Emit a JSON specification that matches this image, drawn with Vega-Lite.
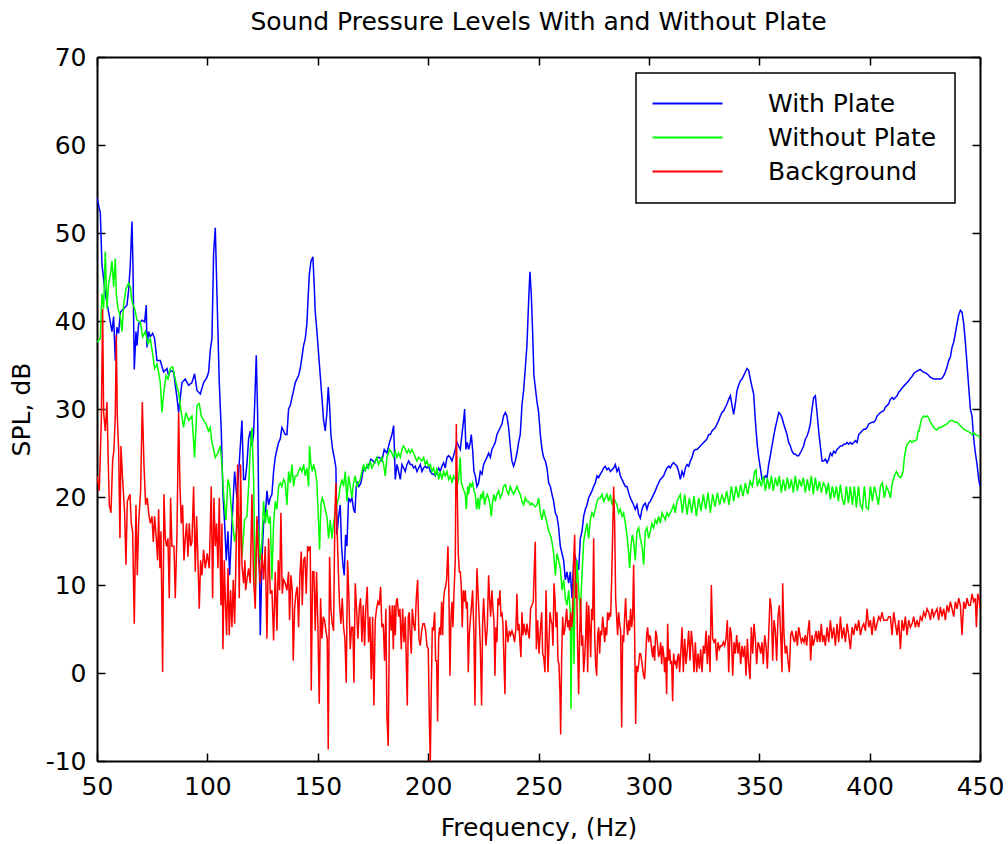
{
"$schema": "https://vega.github.io/schema/vega-lite/v6.json",
"width": 883, "height": 704,
"autosize": {"type": "none"},
"padding": {"left": 97, "top": 57, "right": 28, "bottom": 83},
"background": "white",
"title": {"text": "Sound Pressure Levels With and Without Plate", "font": "DejaVu Sans", "fontSize": 25, "fontWeight": "normal", "color": "black", "anchor": "middle", "offset": 10},
"config": {
 "view": {"stroke": null},
 "axis": {"labelFont": "DejaVu Sans", "labelFontSize": 25, "labelColor": "black", "titleFont": "DejaVu Sans", "titleFontSize": 25, "titleFontWeight": "normal", "titleColor": "black", "grid": false, "domainColor": "black", "domainWidth": 2, "tickColor": "black", "tickWidth": 1.5, "tickSize": -8, "labelFlush": false, "labelOverlap": false},
 "legend": {"strokeWidth": 1.5}
},
"datasets": {
"wp": [{"f":50,"v":54},{"f":51.5,"v":52.3},{"f":52.25,"v":46.4},{"f":53.76,"v":43.1},{"f":55.27,"v":41},{"f":56.78,"v":38.8},{"f":57.53,"v":40.5},{"f":58.29,"v":35.5},{"f":59.04,"v":39.3},{"f":59.8,"v":38.6},{"f":60.55,"v":41},{"f":62.06,"v":41.4},{"f":63.57,"v":41.8},{"f":64.33,"v":43.5},{"f":65.08,"v":46.4},{"f":65.84,"v":51.3},{"f":66.29,"v":46.4},{"f":66.89,"v":34.5},{"f":67.65,"v":38.8},{"f":68.1,"v":37.2},{"f":68.86,"v":39.7},{"f":70.37,"v":40.1},{"f":71.57,"v":39.9},{"f":72.33,"v":41.8},{"f":72.63,"v":37},{"f":73.39,"v":38.8},{"f":74.14,"v":38.2},{"f":75.2,"v":38.6},{"f":76.1,"v":38},{"f":77.16,"v":35.5},{"f":78.67,"v":35.5},{"f":80.18,"v":34.2},{"f":81.69,"v":34.6},{"f":82.44,"v":33.8},{"f":83.2,"v":34.4},{"f":84.71,"v":34.2},{"f":86.22,"v":31.3},{"f":86.97,"v":29.6},{"f":88.48,"v":33},{"f":89.99,"v":33.4},{"f":91.5,"v":32.7},{"f":93.01,"v":33},{"f":94.22,"v":34},{"f":95.28,"v":32.1},{"f":96.79,"v":31.7},{"f":98.3,"v":33},{"f":99.8,"v":33.6},{"f":100.56,"v":34.2},{"f":101.32,"v":36.7},{"f":102.07,"v":38},{"f":102.83,"v":47.7},{"f":103.58,"v":50.6},{"f":104.34,"v":43.1},{"f":105.39,"v":33},{"f":106.3,"v":27.5},{"f":107.05,"v":20.3},{"f":107.81,"v":17},{"f":108.56,"v":12.8},{"f":109.32,"v":16.1},{"f":110.07,"v":11.1},{"f":111.13,"v":17},{"f":112.34,"v":22.9},{"f":113.39,"v":19.9},{"f":114.45,"v":23.9},{"f":115.66,"v":28.7},{"f":116.41,"v":22},{"f":117.16,"v":22},{"f":117.92,"v":23.7},{"f":118.67,"v":26.6},{"f":119.43,"v":27.5},{"f":120.18,"v":25.8},{"f":120.94,"v":27.1},{"f":121.54,"v":31.3},{"f":122.15,"v":36.1},{"f":122.75,"v":29.6},{"f":123.35,"v":17},{"f":123.96,"v":4.3},{"f":124.71,"v":12.8},{"f":125.47,"v":17},{"f":126.22,"v":17.8},{"f":126.98,"v":20.7},{"f":127.73,"v":19.1},{"f":128.49,"v":19.9},{"f":129.24,"v":20.3},{"f":130,"v":22.9},{"f":130.75,"v":24.5},{"f":131.51,"v":25.4},{"f":132.26,"v":26.2},{"f":133.02,"v":26.6},{"f":133.77,"v":27.9},{"f":134.53,"v":27.5},{"f":135.28,"v":27.1},{"f":136.04,"v":27.1},{"f":136.79,"v":30},{"f":137.55,"v":30.4},{"f":138.3,"v":31.3},{"f":139.06,"v":32.1},{"f":139.81,"v":33},{"f":140.56,"v":33.4},{"f":141.32,"v":33.8},{"f":142.07,"v":34.6},{"f":142.83,"v":35.9},{"f":143.58,"v":37.2},{"f":144.34,"v":38},{"f":145.09,"v":39.7},{"f":145.55,"v":42.2},{"f":146.15,"v":45.2},{"f":146.91,"v":46.8},{"f":147.81,"v":47.3},{"f":148.42,"v":43.9},{"f":148.87,"v":41},{"f":149.62,"v":38.8},{"f":150.38,"v":36.3},{"f":151.13,"v":33.8},{"f":151.89,"v":31.3},{"f":152.64,"v":28.7},{"f":153.4,"v":27.5},{"f":154.15,"v":29.6},{"f":154.76,"v":32.5},{"f":155.36,"v":30.4},{"f":155.96,"v":27.1},{"f":156.72,"v":25.4},{"f":157.47,"v":24.5},{"f":158.23,"v":23.3},{"f":158.68,"v":15.7},{"f":159.44,"v":17.8},{"f":160.19,"v":19.1},{"f":160.79,"v":14.4},{"f":161.4,"v":12.3},{"f":162,"v":11.1},{"f":162.61,"v":15.7},{"f":163.21,"v":14.4},{"f":163.96,"v":19.9},{"f":164.72,"v":19.5},{"f":165.47,"v":19.9},{"f":166.23,"v":18.6},{"f":166.83,"v":18.2},{"f":167.44,"v":21.2},{"f":168.04,"v":21.6},{"f":168.65,"v":21.2},{"f":169.55,"v":21.6},{"f":170.46,"v":22.9},{"f":171.36,"v":23.3},{"f":172.27,"v":23.3},{"f":173.17,"v":23.7},{"f":174.08,"v":24.3},{"f":174.99,"v":24.1},{"f":175.89,"v":23.9},{"f":176.8,"v":24.5},{"f":178,"v":24.5},{"f":179.06,"v":24.1},{"f":180.12,"v":25.4},{"f":181.33,"v":25},{"f":182.53,"v":26.2},{"f":183.62,"v":27.1},{"f":184.37,"v":28.1},{"f":185.13,"v":22},{"f":185.88,"v":23.7},{"f":186.64,"v":22.9},{"f":187.39,"v":22},{"f":188.15,"v":23.7},{"f":188.9,"v":23.3},{"f":189.66,"v":22.9},{"f":190.41,"v":23.7},{"f":191.17,"v":24.1},{"f":191.92,"v":23.7},{"f":192.68,"v":23.7},{"f":193.43,"v":23.3},{"f":194.19,"v":23.5},{"f":194.94,"v":22.9},{"f":195.7,"v":23.3},{"f":196.45,"v":23.7},{"f":197.21,"v":22.9},{"f":197.96,"v":23.3},{"f":198.72,"v":23.5},{"f":199.47,"v":23.3},{"f":200.23,"v":23.5},{"f":200.98,"v":22.9},{"f":201.74,"v":22.6},{"f":202.49,"v":22.6},{"f":203.25,"v":22.4},{"f":204,"v":22.9},{"f":204.76,"v":23.3},{"f":205.51,"v":22.9},{"f":206.26,"v":23.5},{"f":207.02,"v":23.9},{"f":207.77,"v":23.3},{"f":208.53,"v":24.5},{"f":209.28,"v":24.7},{"f":210.04,"v":24.5},{"f":210.79,"v":24.1},{"f":211.55,"v":24.7},{"f":212.3,"v":25.4},{"f":213.06,"v":26.2},{"f":213.81,"v":25.8},{"f":214.57,"v":25.4},{"f":215.32,"v":27.1},{"f":216.08,"v":28.7},{"f":216.53,"v":30},{"f":217.13,"v":25.4},{"f":217.74,"v":26.2},{"f":218.34,"v":25.4},{"f":219.1,"v":26.2},{"f":219.55,"v":27.1},{"f":220.15,"v":25.4},{"f":220.76,"v":22.9},{"f":221.36,"v":22.4},{"f":222.12,"v":21.2},{"f":222.87,"v":21.6},{"f":223.63,"v":22.9},{"f":224.38,"v":22.6},{"f":225.14,"v":23.7},{"f":225.89,"v":24.1},{"f":226.65,"v":24.5},{"f":227.4,"v":25},{"f":228.16,"v":24.5},{"f":228.91,"v":25.4},{"f":229.67,"v":25.8},{"f":230.42,"v":26.2},{"f":231.18,"v":27.1},{"f":231.93,"v":27.5},{"f":232.69,"v":27.9},{"f":233.44,"v":28.3},{"f":234.19,"v":29.2},{"f":234.95,"v":29.6},{"f":235.7,"v":29.2},{"f":236.46,"v":27.9},{"f":237.21,"v":25.8},{"f":237.97,"v":24.1},{"f":238.72,"v":23.5},{"f":239.48,"v":24.1},{"f":240.23,"v":25},{"f":240.99,"v":26.2},{"f":241.74,"v":27.1},{"f":242.5,"v":30.4},{"f":243.25,"v":32.1},{"f":244.01,"v":34.6},{"f":244.76,"v":37.2},{"f":245.52,"v":42.2},{"f":246.12,"v":45.6},{"f":246.73,"v":43.1},{"f":247.33,"v":38.8},{"f":247.93,"v":33.8},{"f":248.54,"v":32.5},{"f":249.32,"v":30.8},{"f":250.07,"v":29.6},{"f":250.83,"v":27.1},{"f":251.58,"v":25.4},{"f":252.34,"v":24.5},{"f":253.09,"v":24.1},{"f":253.85,"v":23.3},{"f":254.6,"v":21.6},{"f":255.36,"v":21.2},{"f":256.11,"v":20.3},{"f":256.87,"v":19.5},{"f":257.62,"v":18.2},{"f":258.38,"v":17.8},{"f":259.13,"v":16.5},{"f":259.89,"v":14.4},{"f":260.64,"v":13.6},{"f":261.4,"v":12.8},{"f":262.15,"v":10.6},{"f":262.91,"v":11.5},{"f":263.66,"v":10.2},{"f":264.42,"v":11.5},{"f":265.17,"v":8.5},{"f":265.93,"v":12.8},{"f":266.68,"v":13.2},{"f":267.44,"v":12.3},{"f":268.19,"v":11.7},{"f":268.95,"v":15.3},{"f":269.7,"v":16.1},{"f":270.46,"v":17.8},{"f":271.21,"v":18.6},{"f":271.96,"v":19.1},{"f":272.72,"v":19.9},{"f":273.47,"v":20.3},{"f":274.23,"v":20.7},{"f":274.98,"v":21.2},{"f":275.74,"v":21.6},{"f":276.49,"v":22.4},{"f":277.25,"v":22.2},{"f":278,"v":22.6},{"f":278.76,"v":22.9},{"f":279.51,"v":23.3},{"f":280.27,"v":23.5},{"f":281.02,"v":23.1},{"f":281.78,"v":23.3},{"f":282.53,"v":22.9},{"f":283.29,"v":23.1},{"f":284.04,"v":23.3},{"f":284.8,"v":23.7},{"f":285.55,"v":22.9},{"f":286.31,"v":23.3},{"f":287.06,"v":22.4},{"f":287.82,"v":22},{"f":288.57,"v":21.6},{"f":289.33,"v":21.2},{"f":290.08,"v":21.2},{"f":290.84,"v":20.5},{"f":291.59,"v":19.9},{"f":292.35,"v":19.5},{"f":293.1,"v":19.1},{"f":293.86,"v":18.6},{"f":294.61,"v":19.1},{"f":295.37,"v":18},{"f":296.12,"v":17.6},{"f":296.88,"v":18.6},{"f":297.63,"v":19.1},{"f":298.39,"v":19.3},{"f":299.14,"v":18.6},{"f":299.9,"v":19.3},{"f":300.65,"v":19.5},{"f":301.4,"v":19.9},{"f":302.16,"v":20.3},{"f":302.91,"v":20.7},{"f":303.67,"v":21.2},{"f":304.42,"v":21.6},{"f":305.18,"v":22},{"f":305.93,"v":22.2},{"f":306.69,"v":22.4},{"f":307.44,"v":22.9},{"f":308.2,"v":23.3},{"f":308.95,"v":23.5},{"f":309.71,"v":23.3},{"f":310.46,"v":23.7},{"f":311.22,"v":23.9},{"f":311.97,"v":23.7},{"f":312.73,"v":23.5},{"f":313.48,"v":22.9},{"f":314.24,"v":22},{"f":315.02,"v":22.9},{"f":315.77,"v":22.4},{"f":316.53,"v":23.3},{"f":317.28,"v":23.7},{"f":318.04,"v":23.5},{"f":318.79,"v":24.1},{"f":319.55,"v":24.5},{"f":320.3,"v":25.2},{"f":321.06,"v":25.4},{"f":321.81,"v":25.4},{"f":322.57,"v":25.6},{"f":323.32,"v":25.8},{"f":324.08,"v":26},{"f":324.83,"v":26.2},{"f":325.59,"v":26.4},{"f":326.34,"v":26.6},{"f":327.1,"v":27.1},{"f":327.85,"v":27.1},{"f":328.61,"v":27.5},{"f":329.36,"v":27.7},{"f":330.12,"v":27.9},{"f":330.87,"v":28.3},{"f":331.63,"v":28.7},{"f":332.38,"v":29.2},{"f":333.14,"v":29.6},{"f":333.89,"v":29.8},{"f":334.65,"v":30.2},{"f":335.4,"v":30.6},{"f":336.16,"v":31.1},{"f":336.91,"v":31.5},{"f":337.66,"v":30.4},{"f":338.42,"v":29.4},{"f":339.17,"v":30.6},{"f":339.93,"v":32.1},{"f":340.68,"v":32.7},{"f":341.44,"v":33.2},{"f":342.19,"v":33.4},{"f":342.95,"v":33.8},{"f":343.7,"v":34.2},{"f":344.46,"v":34.6},{"f":345.21,"v":34.4},{"f":345.97,"v":33.4},{"f":346.72,"v":32.5},{"f":347.48,"v":31.7},{"f":348.23,"v":28.7},{"f":348.99,"v":26.2},{"f":349.74,"v":24.5},{"f":350.5,"v":23.3},{"f":351.25,"v":22},{"f":352.01,"v":22},{"f":352.76,"v":22.4},{"f":353.52,"v":22.2},{"f":354.27,"v":23.7},{"f":355.03,"v":24.7},{"f":355.78,"v":25.8},{"f":356.54,"v":26.9},{"f":357.29,"v":27.9},{"f":358.05,"v":28.7},{"f":358.8,"v":29.6},{"f":359.56,"v":29.4},{"f":360.31,"v":29},{"f":361.07,"v":28.3},{"f":361.82,"v":27.7},{"f":362.57,"v":27.1},{"f":363.33,"v":26.2},{"f":364.08,"v":25.8},{"f":364.84,"v":25.2},{"f":365.59,"v":24.9},{"f":366.35,"v":24.9},{"f":367.1,"v":24.7},{"f":367.86,"v":24.7},{"f":368.61,"v":25},{"f":369.37,"v":25.4},{"f":370.12,"v":25.8},{"f":370.88,"v":26.6},{"f":371.63,"v":26.9},{"f":372.39,"v":27.5},{"f":373.14,"v":28.3},{"f":373.9,"v":30},{"f":374.65,"v":31.3},{"f":375.41,"v":31.5},{"f":376.16,"v":29.6},{"f":376.92,"v":27.5},{"f":377.67,"v":25.8},{"f":378.43,"v":24.1},{"f":379.18,"v":24.1},{"f":379.94,"v":24.3},{"f":380.72,"v":23.9},{"f":381.47,"v":24.3},{"f":382.23,"v":25},{"f":382.98,"v":24.7},{"f":383.74,"v":25.2},{"f":384.49,"v":25},{"f":385.25,"v":25.4},{"f":386,"v":25.6},{"f":386.76,"v":25.8},{"f":387.51,"v":25.8},{"f":388.27,"v":26},{"f":389.02,"v":26},{"f":389.78,"v":26.2},{"f":390.53,"v":26},{"f":391.29,"v":26.2},{"f":392.04,"v":26},{"f":392.8,"v":26.2},{"f":393.55,"v":26.4},{"f":394.31,"v":26.2},{"f":395.06,"v":27.1},{"f":395.82,"v":27.3},{"f":396.57,"v":27.5},{"f":397.33,"v":27.7},{"f":398.08,"v":27.7},{"f":398.84,"v":27.9},{"f":399.59,"v":28.3},{"f":400.35,"v":28.4},{"f":401.1,"v":28.5},{"f":401.86,"v":28.5},{"f":402.61,"v":28.7},{"f":403.36,"v":29.2},{"f":404.12,"v":29.4},{"f":404.87,"v":29.6},{"f":405.63,"v":29.7},{"f":406.38,"v":29.8},{"f":407.14,"v":30.2},{"f":407.89,"v":30.4},{"f":408.65,"v":30.6},{"f":409.4,"v":31.1},{"f":410.16,"v":31.3},{"f":410.91,"v":31.1},{"f":411.67,"v":31.3},{"f":412.42,"v":31.5},{"f":413.18,"v":31.9},{"f":413.93,"v":32.1},{"f":414.69,"v":32.4},{"f":415.44,"v":32.6},{"f":416.2,"v":32.8},{"f":416.95,"v":33},{"f":417.71,"v":33.2},{"f":418.46,"v":33.5},{"f":419.22,"v":33.7},{"f":419.97,"v":34},{"f":420.73,"v":34.2},{"f":421.48,"v":34.3},{"f":422.24,"v":34.4},{"f":422.99,"v":34.5},{"f":423.75,"v":34.3},{"f":424.5,"v":34.2},{"f":425.26,"v":34.1},{"f":426.01,"v":34},{"f":426.77,"v":33.8},{"f":427.52,"v":33.6},{"f":428.27,"v":33.5},{"f":429.03,"v":33.4},{"f":429.78,"v":33.4},{"f":430.54,"v":33.4},{"f":431.29,"v":33.4},{"f":432.05,"v":33.4},{"f":432.8,"v":33.5},{"f":433.56,"v":33.8},{"f":434.31,"v":34.2},{"f":435.07,"v":34.8},{"f":435.82,"v":35.5},{"f":436.58,"v":35.9},{"f":437.33,"v":37},{"f":438.09,"v":37.6},{"f":438.84,"v":38.6},{"f":439.6,"v":39.7},{"f":440.35,"v":40.7},{"f":441.11,"v":41.2},{"f":441.86,"v":41},{"f":442.62,"v":39.7},{"f":443.37,"v":37.6},{"f":444.13,"v":35.1},{"f":444.88,"v":32.5},{"f":445.64,"v":30},{"f":446.39,"v":29.2},{"f":447.15,"v":26.6},{"f":447.9,"v":25},{"f":448.66,"v":23.7},{"f":449.41,"v":22},{"f":450,"v":21.2}],
"wo": [{"f":50,"v":37.6},{"f":51.5,"v":38},{"f":52.25,"v":43.1},{"f":53,"v":41.4},{"f":53.76,"v":47.9},{"f":54.51,"v":41.4},{"f":55.27,"v":44.3},{"f":56.02,"v":45.2},{"f":56.78,"v":46.8},{"f":57.53,"v":43.9},{"f":58.29,"v":47.1},{"f":58.74,"v":43.1},{"f":59.5,"v":41.4},{"f":60.55,"v":40.5},{"f":61.31,"v":38.8},{"f":62.06,"v":41.8},{"f":63.12,"v":43.7},{"f":64.33,"v":44.3},{"f":65.08,"v":43.9},{"f":65.84,"v":42.2},{"f":67.04,"v":41.4},{"f":68.1,"v":40.1},{"f":69.61,"v":39.9},{"f":70.67,"v":38.2},{"f":71.88,"v":38.8},{"f":73.08,"v":37.4},{"f":74.14,"v":38},{"f":75.2,"v":36.3},{"f":76.1,"v":34.6},{"f":77.16,"v":35.1},{"f":77.91,"v":34.2},{"f":78.67,"v":33},{"f":79.42,"v":29.6},{"f":80.18,"v":31.7},{"f":81.24,"v":33.8},{"f":82.14,"v":33.4},{"f":83.2,"v":34.6},{"f":84.25,"v":34.8},{"f":85.46,"v":33.4},{"f":86.22,"v":32.5},{"f":86.97,"v":31.9},{"f":88.18,"v":29.6},{"f":89.24,"v":27.9},{"f":90.29,"v":29.6},{"f":91.5,"v":28.7},{"f":93.01,"v":29.2},{"f":94.22,"v":24.5},{"f":95.28,"v":30.4},{"f":96.33,"v":30.6},{"f":97.24,"v":29.2},{"f":98.3,"v":28.7},{"f":99.35,"v":28.3},{"f":100.56,"v":27.5},{"f":101.32,"v":27.9},{"f":102.07,"v":26.2},{"f":102.83,"v":25.4},{"f":103.58,"v":24.5},{"f":104.79,"v":25},{"f":105.84,"v":25.8},{"f":106.6,"v":23.7},{"f":107.35,"v":20.3},{"f":108.41,"v":17.4},{"f":109.32,"v":22},{"f":110.07,"v":21.2},{"f":111.13,"v":17.8},{"f":112.34,"v":14.9},{"f":113.39,"v":16.5},{"f":114.9,"v":17.8},{"f":115.66,"v":13.2},{"f":116.86,"v":17.4},{"f":117.92,"v":17.8},{"f":118.67,"v":21.2},{"f":119.43,"v":25.4},{"f":120.18,"v":27.9},{"f":120.94,"v":22},{"f":121.69,"v":8.5},{"f":122.45,"v":17.4},{"f":123.2,"v":16.1},{"f":123.96,"v":12.8},{"f":124.71,"v":14.9},{"f":125.47,"v":19.5},{"f":126.22,"v":17},{"f":126.98,"v":18.6},{"f":127.73,"v":17},{"f":128.49,"v":17.8},{"f":129.24,"v":10.6},{"f":130,"v":17},{"f":130.75,"v":19.5},{"f":131.51,"v":18.6},{"f":132.26,"v":21.2},{"f":133.02,"v":21.6},{"f":133.77,"v":21.2},{"f":134.53,"v":22},{"f":135.28,"v":21.6},{"f":136.04,"v":19.1},{"f":136.79,"v":22.9},{"f":137.55,"v":21.6},{"f":138.3,"v":23.7},{"f":139.06,"v":21.2},{"f":139.81,"v":22.4},{"f":140.56,"v":22.4},{"f":141.32,"v":22.9},{"f":142.07,"v":23.3},{"f":142.83,"v":22.9},{"f":143.58,"v":23.7},{"f":144.34,"v":22.4},{"f":145.09,"v":23.3},{"f":145.85,"v":21.2},{"f":146.3,"v":25.8},{"f":146.91,"v":23.7},{"f":147.51,"v":22.9},{"f":148.11,"v":23.7},{"f":148.87,"v":22.9},{"f":149.62,"v":21.6},{"f":150.38,"v":17},{"f":150.83,"v":14},{"f":151.43,"v":19.1},{"f":152.04,"v":19.9},{"f":152.64,"v":19.5},{"f":153.4,"v":18.6},{"f":154.15,"v":17.8},{"f":154.91,"v":15.3},{"f":155.66,"v":17.4},{"f":156.42,"v":15.3},{"f":157.17,"v":17},{"f":157.93,"v":18.2},{"f":158.68,"v":19.1},{"f":159.44,"v":19.9},{"f":160.19,"v":21.2},{"f":160.95,"v":22},{"f":161.7,"v":21.2},{"f":162.46,"v":22.9},{"f":163.21,"v":19.5},{"f":163.96,"v":22.4},{"f":164.72,"v":21.2},{"f":165.47,"v":19.9},{"f":166.23,"v":21.6},{"f":166.98,"v":22.4},{"f":167.74,"v":21.2},{"f":168.49,"v":21.6},{"f":169.25,"v":22},{"f":170,"v":22.9},{"f":170.76,"v":23.7},{"f":171.51,"v":22.9},{"f":172.27,"v":23.7},{"f":173.02,"v":23.3},{"f":173.78,"v":24.1},{"f":174.53,"v":23.3},{"f":175.29,"v":23.7},{"f":176.04,"v":24.1},{"f":176.8,"v":24.5},{"f":177.55,"v":23.7},{"f":178.31,"v":24.1},{"f":179.06,"v":24.5},{"f":179.82,"v":23.7},{"f":180.57,"v":22.4},{"f":181.33,"v":24.5},{"f":182.53,"v":25.4},{"f":183.62,"v":25},{"f":184.37,"v":24.5},{"f":185.13,"v":25.2},{"f":185.88,"v":24.5},{"f":186.64,"v":25},{"f":187.39,"v":24.5},{"f":188.15,"v":25.4},{"f":188.9,"v":25.8},{"f":189.66,"v":25.4},{"f":190.41,"v":25},{"f":191.17,"v":25.4},{"f":191.92,"v":25},{"f":192.68,"v":25.4},{"f":193.43,"v":25},{"f":194.19,"v":24.5},{"f":194.94,"v":24.1},{"f":195.7,"v":24.5},{"f":196.45,"v":24.3},{"f":197.21,"v":24.1},{"f":197.96,"v":24.5},{"f":198.72,"v":23.7},{"f":199.47,"v":24.1},{"f":200.23,"v":23.5},{"f":200.98,"v":23.7},{"f":201.74,"v":22.9},{"f":202.49,"v":23.3},{"f":203.25,"v":22.4},{"f":204,"v":23.3},{"f":204.76,"v":22},{"f":205.51,"v":22.9},{"f":206.26,"v":22},{"f":207.02,"v":22.9},{"f":207.77,"v":22.4},{"f":208.53,"v":22.9},{"f":209.28,"v":22},{"f":210.04,"v":22.4},{"f":210.79,"v":21.6},{"f":211.55,"v":22.4},{"f":212.3,"v":22},{"f":213.06,"v":21.2},{"f":213.81,"v":22},{"f":214.57,"v":24.5},{"f":215.02,"v":21.6},{"f":215.62,"v":21.2},{"f":216.23,"v":20.7},{"f":216.83,"v":20.3},{"f":217.29,"v":18.6},{"f":217.89,"v":21.2},{"f":218.34,"v":20.3},{"f":218.95,"v":21.6},{"f":219.55,"v":21.2},{"f":220.15,"v":21.6},{"f":220.76,"v":20.7},{"f":221.36,"v":20.3},{"f":221.97,"v":18.6},{"f":222.57,"v":19.9},{"f":223.17,"v":18.6},{"f":223.78,"v":20.3},{"f":224.38,"v":19.9},{"f":224.99,"v":20.7},{"f":225.59,"v":19.1},{"f":226.19,"v":19.9},{"f":226.8,"v":20.3},{"f":227.4,"v":19.9},{"f":228,"v":19.1},{"f":228.61,"v":17.8},{"f":229.21,"v":19.5},{"f":229.82,"v":20.3},{"f":230.42,"v":19.5},{"f":231.18,"v":20.3},{"f":231.93,"v":20.7},{"f":232.69,"v":19.9},{"f":233.44,"v":20.3},{"f":234.19,"v":21.2},{"f":234.95,"v":21.4},{"f":235.7,"v":20.7},{"f":236.46,"v":20.3},{"f":237.21,"v":21.2},{"f":237.97,"v":20.7},{"f":238.72,"v":20.3},{"f":239.48,"v":20.7},{"f":240.23,"v":21.2},{"f":240.99,"v":20.7},{"f":241.74,"v":20.3},{"f":242.5,"v":19.5},{"f":243.25,"v":19.1},{"f":244.01,"v":19.9},{"f":244.76,"v":19.5},{"f":245.52,"v":19.5},{"f":246.27,"v":19.1},{"f":247.03,"v":19.3},{"f":247.78,"v":19.1},{"f":248.54,"v":18.9},{"f":249.32,"v":19.1},{"f":250.07,"v":19.9},{"f":250.83,"v":18.2},{"f":251.58,"v":17.4},{"f":252.34,"v":18.6},{"f":253.09,"v":17.8},{"f":253.85,"v":17},{"f":254.6,"v":16.1},{"f":255.36,"v":15.7},{"f":256.11,"v":14.9},{"f":256.87,"v":13.6},{"f":257.62,"v":11.1},{"f":258.38,"v":13.6},{"f":259.13,"v":12.8},{"f":259.89,"v":11.9},{"f":260.64,"v":9.4},{"f":261.4,"v":10.6},{"f":262.15,"v":8.5},{"f":262.91,"v":7.7},{"f":263.66,"v":9.4},{"f":264.42,"v":6.9},{"f":264.72,"v":-4.1},{"f":265.17,"v":6.4},{"f":265.62,"v":8.5},{"f":266.08,"v":1},{"f":266.53,"v":10.6},{"f":266.98,"v":8.5},{"f":267.44,"v":12.8},{"f":268.19,"v":9.4},{"f":268.95,"v":6.9},{"f":269.7,"v":11.1},{"f":270.46,"v":14.9},{"f":271.21,"v":16.1},{"f":271.96,"v":17},{"f":272.72,"v":15.3},{"f":273.47,"v":17.4},{"f":274.23,"v":18.2},{"f":274.98,"v":17.8},{"f":275.74,"v":18.6},{"f":276.49,"v":19.5},{"f":277.25,"v":19.9},{"f":278,"v":19.9},{"f":278.76,"v":20.3},{"f":279.51,"v":19.5},{"f":280.27,"v":19.9},{"f":281.02,"v":20.3},{"f":281.78,"v":19.5},{"f":282.53,"v":20.3},{"f":283.29,"v":19.1},{"f":284.04,"v":19.9},{"f":284.8,"v":19.5},{"f":285.55,"v":19.1},{"f":286.31,"v":18.2},{"f":287.06,"v":18.6},{"f":287.82,"v":17.8},{"f":288.57,"v":18.2},{"f":289.33,"v":17},{"f":290.08,"v":15.7},{"f":290.84,"v":13.6},{"f":291.29,"v":11.9},{"f":291.89,"v":14.4},{"f":292.5,"v":15.7},{"f":293.1,"v":14.9},{"f":293.86,"v":12.8},{"f":294.61,"v":16.1},{"f":295.37,"v":16.5},{"f":296.12,"v":15.3},{"f":296.88,"v":14.4},{"f":297.63,"v":12.3},{"f":298.39,"v":16.1},{"f":299.14,"v":16.5},{"f":299.9,"v":15.3},{"f":300.65,"v":16.1},{"f":301.4,"v":17},{"f":302.16,"v":16.5},{"f":302.91,"v":17.4},{"f":303.67,"v":17},{"f":304.42,"v":17.8},{"f":305.18,"v":17},{"f":305.93,"v":18.2},{"f":306.69,"v":17.8},{"f":307.44,"v":17.4},{"f":308.2,"v":18.2},{"f":308.95,"v":17.8},{"f":309.71,"v":18.2},{"f":310.46,"v":18.6},{"f":311.22,"v":19.1},{"f":311.97,"v":18.2},{"f":312.73,"v":19.5},{"f":313.48,"v":19.9},{"f":314.24,"v":20.3},{"f":315.17,"v":18.2},{"f":316.23,"v":20.3},{"f":317.28,"v":18},{"f":318.34,"v":19.9},{"f":319.4,"v":18.2},{"f":320.45,"v":20.1},{"f":321.51,"v":17.8},{"f":322.57,"v":19.9},{"f":323.62,"v":18.4},{"f":324.68,"v":20.3},{"f":325.74,"v":18.6},{"f":326.8,"v":20.5},{"f":327.85,"v":18.2},{"f":328.91,"v":20.3},{"f":329.97,"v":18.9},{"f":331.02,"v":20.5},{"f":332.08,"v":19.1},{"f":333.14,"v":20.3},{"f":334.19,"v":19.3},{"f":335.25,"v":20.7},{"f":336.31,"v":19.1},{"f":337.36,"v":21.2},{"f":338.42,"v":19.5},{"f":339.48,"v":21.2},{"f":340.53,"v":19.9},{"f":341.59,"v":21.4},{"f":342.65,"v":20.1},{"f":343.7,"v":21.6},{"f":344.76,"v":20.3},{"f":345.82,"v":21.8},{"f":346.87,"v":21.2},{"f":347.93,"v":22.9},{"f":348.53,"v":23.1},{"f":349.14,"v":21.2},{"f":350.04,"v":22},{"f":350.95,"v":21.2},{"f":351.86,"v":22.4},{"f":352.76,"v":20.7},{"f":353.67,"v":22.2},{"f":354.57,"v":20.9},{"f":355.48,"v":22.4},{"f":356.39,"v":20.7},{"f":357.29,"v":22.2},{"f":358.2,"v":21.2},{"f":359.1,"v":22.4},{"f":360.01,"v":20.5},{"f":360.91,"v":22},{"f":361.82,"v":20.7},{"f":362.73,"v":22.2},{"f":363.63,"v":20.9},{"f":364.54,"v":22},{"f":365.44,"v":20.5},{"f":366.35,"v":22.4},{"f":367.26,"v":20.7},{"f":368.16,"v":22},{"f":369.07,"v":21.2},{"f":369.97,"v":22.2},{"f":370.88,"v":20.5},{"f":371.78,"v":22},{"f":372.69,"v":20.7},{"f":373.6,"v":22.4},{"f":374.5,"v":20.3},{"f":375.41,"v":22.2},{"f":376.31,"v":20.7},{"f":377.22,"v":21.8},{"f":378.12,"v":20.5},{"f":379.03,"v":21.6},{"f":379.94,"v":21.2},{"f":380.42,"v":20.3},{"f":381.32,"v":21.6},{"f":382.23,"v":19.7},{"f":383.13,"v":21.2},{"f":384.04,"v":19.9},{"f":384.95,"v":21.2},{"f":385.85,"v":19.5},{"f":386.76,"v":21.4},{"f":387.66,"v":19.7},{"f":388.57,"v":19.1},{"f":389.48,"v":21.2},{"f":390.38,"v":19.3},{"f":391.29,"v":21.2},{"f":392.19,"v":19.1},{"f":393.1,"v":21.2},{"f":394,"v":18.8},{"f":394.91,"v":21.2},{"f":395.82,"v":19.1},{"f":396.72,"v":18.6},{"f":397.63,"v":21.2},{"f":398.53,"v":18.8},{"f":399.44,"v":18.6},{"f":400.35,"v":21.2},{"f":401.25,"v":19.5},{"f":402.16,"v":21.2},{"f":403.06,"v":20.3},{"f":403.97,"v":19.1},{"f":404.87,"v":21.2},{"f":405.78,"v":21.6},{"f":406.69,"v":19.9},{"f":407.59,"v":21.2},{"f":408.5,"v":20.7},{"f":409.4,"v":19.9},{"f":410.31,"v":21.6},{"f":411.22,"v":22.4},{"f":412.12,"v":22.9},{"f":413.03,"v":22.4},{"f":413.93,"v":22.2},{"f":414.54,"v":22.4},{"f":415.14,"v":22.9},{"f":415.74,"v":24.5},{"f":416.35,"v":25.4},{"f":416.95,"v":26},{"f":417.71,"v":26.2},{"f":418.46,"v":26.4},{"f":419.22,"v":26.2},{"f":419.97,"v":26.4},{"f":420.73,"v":26.4},{"f":421.48,"v":26.6},{"f":421.93,"v":27.5},{"f":422.39,"v":27.5},{"f":422.99,"v":28.3},{"f":423.75,"v":29},{"f":424.5,"v":29.2},{"f":425.26,"v":29.1},{"f":426.01,"v":29.2},{"f":426.77,"v":29},{"f":427.52,"v":28.5},{"f":428.27,"v":28.2},{"f":429.03,"v":27.9},{"f":429.78,"v":27.7},{"f":430.54,"v":27.6},{"f":431.29,"v":27.9},{"f":432.05,"v":27.9},{"f":432.8,"v":28},{"f":433.56,"v":28.1},{"f":434.31,"v":28.2},{"f":435.07,"v":28.3},{"f":435.82,"v":28.5},{"f":436.58,"v":28.7},{"f":437.33,"v":28.7},{"f":438.09,"v":28.6},{"f":438.84,"v":28.5},{"f":439.6,"v":28.5},{"f":440.35,"v":28.3},{"f":441.11,"v":28.1},{"f":441.86,"v":27.9},{"f":442.62,"v":27.7},{"f":443.37,"v":27.6},{"f":444.13,"v":27.5},{"f":444.88,"v":27.4},{"f":445.64,"v":27.3},{"f":446.39,"v":27.1},{"f":447.15,"v":27.3},{"f":447.9,"v":27.1},{"f":448.66,"v":27},{"f":449.41,"v":26.9},{"f":450,"v":26.8}],
"bg": [{"f":50,"v":22.4},{"f":51.04,"v":20.7},{"f":51.95,"v":28.7},{"f":52.55,"v":41.4},{"f":53,"v":29.6},{"f":53.76,"v":27.5},{"f":54.51,"v":30.8},{"f":54.97,"v":25.4},{"f":55.57,"v":19.1},{"f":56.33,"v":18.2},{"f":57.08,"v":24.1},{"f":57.68,"v":25.4},{"f":58.29,"v":29.2},{"f":58.74,"v":38.4},{"f":59.19,"v":29.2},{"f":59.8,"v":25.4},{"f":60.4,"v":15.3},{"f":60.85,"v":25.8},{"f":61.61,"v":22},{"f":62.51,"v":18.2},{"f":63.12,"v":12.3},{"f":63.72,"v":19.5},{"f":64.33,"v":19.9},{"f":64.93,"v":20.3},{"f":65.53,"v":17},{"f":66.14,"v":16.1},{"f":66.89,"v":5.6},{"f":67.65,"v":19.1},{"f":68.25,"v":11.1},{"f":68.86,"v":17},{"f":69.76,"v":20.7},{"f":70.52,"v":30.8},{"f":71.27,"v":23.7},{"f":72.03,"v":19.1},{"f":72.78,"v":19.9},{"f":73.39,"v":18.2},{"f":74.14,"v":17},{"f":74.89,"v":17.8},{"f":75.5,"v":14.9},{"f":76.1,"v":17.8},{"f":76.86,"v":15.3},{"f":77.46,"v":12.8},{"f":77.91,"v":18.6},{"f":78.52,"v":11.9},{"f":78.97,"v":16.1},{"f":79.73,"v":0.1},{"f":80.33,"v":20.3},{"f":80.93,"v":15.3},{"f":81.54,"v":14.4},{"f":82.14,"v":15.3},{"f":82.75,"v":8.5},{"f":83.35,"v":19.9},{"f":83.95,"v":14.4},{"f":84.86,"v":14.4},{"f":85.46,"v":8.5},{"f":86.22,"v":15.7},{"f":86.97,"v":29.6},{"f":87.58,"v":21.2},{"f":88.18,"v":17},{"f":88.78,"v":19.1},{"f":89.39,"v":12.8},{"f":89.99,"v":15.3},{"f":90.6,"v":17},{"f":91.2,"v":13.2},{"f":91.8,"v":17},{"f":92.41,"v":14.4},{"f":93.01,"v":14.9},{"f":93.77,"v":21.2},{"f":94.52,"v":11.5},{"f":95.12,"v":17.8},{"f":95.73,"v":12.8},{"f":96.33,"v":7.3},{"f":96.94,"v":12.8},{"f":97.54,"v":11.1},{"f":98.3,"v":14},{"f":99.05,"v":11.9},{"f":99.96,"v":13.6},{"f":100.86,"v":11.9},{"f":101.77,"v":21.2},{"f":102.37,"v":8.5},{"f":102.98,"v":19.9},{"f":103.58,"v":14.4},{"f":104.18,"v":17},{"f":104.79,"v":11.9},{"f":105.39,"v":19.9},{"f":106.15,"v":7.7},{"f":106.6,"v":17},{"f":107.05,"v":2.7},{"f":107.66,"v":12.8},{"f":108.11,"v":8.5},{"f":108.71,"v":4.3},{"f":109.32,"v":11.9},{"f":109.92,"v":4.3},{"f":110.52,"v":9.4},{"f":111.13,"v":5.2},{"f":111.73,"v":10.6},{"f":112.34,"v":5.6},{"f":112.94,"v":12.8},{"f":113.69,"v":23.7},{"f":114.45,"v":8.5},{"f":115.05,"v":23.7},{"f":115.66,"v":12.3},{"f":116.41,"v":10.2},{"f":117.01,"v":12.8},{"f":117.32,"v":9.4},{"f":117.92,"v":10.6},{"f":118.67,"v":11.9},{"f":119.43,"v":10.2},{"f":120.18,"v":20.3},{"f":120.94,"v":10.6},{"f":121.69,"v":7.3},{"f":122.45,"v":17.8},{"f":123.2,"v":12.8},{"f":123.96,"v":10.2},{"f":124.71,"v":13.6},{"f":125.47,"v":10.6},{"f":126.22,"v":14.4},{"f":126.98,"v":3.9},{"f":127.73,"v":15.3},{"f":128.49,"v":9},{"f":129.24,"v":9.4},{"f":130,"v":3.7},{"f":130.75,"v":11.5},{"f":131.51,"v":4.8},{"f":132.11,"v":12.8},{"f":132.71,"v":9.4},{"f":133.32,"v":18.2},{"f":133.92,"v":9},{"f":134.53,"v":10.6},{"f":135.28,"v":10.2},{"f":136.04,"v":9.4},{"f":136.79,"v":11.5},{"f":137.24,"v":6},{"f":137.85,"v":11.1},{"f":138.45,"v":9.4},{"f":138.9,"v":1.4},{"f":139.51,"v":7.3},{"f":140.11,"v":9},{"f":140.72,"v":9.8},{"f":141.32,"v":5.2},{"f":141.92,"v":11.1},{"f":142.53,"v":13.8},{"f":142.98,"v":7.7},{"f":143.58,"v":12.8},{"f":144.19,"v":13.2},{"f":144.79,"v":9},{"f":145.4,"v":14.4},{"f":146,"v":14},{"f":146.6,"v":14.4},{"f":147.06,"v":-2},{"f":147.66,"v":11.5},{"f":148.26,"v":11.5},{"f":148.87,"v":4.8},{"f":149.47,"v":11.5},{"f":150.08,"v":5.2},{"f":150.68,"v":-3.5},{"f":151.28,"v":8.5},{"f":151.89,"v":3.9},{"f":152.49,"v":6.4},{"f":153.1,"v":6},{"f":153.7,"v":4.8},{"f":154.3,"v":3.9},{"f":154.76,"v":-8.7},{"f":155.36,"v":13.2},{"f":155.96,"v":7.3},{"f":156.57,"v":5.6},{"f":157.17,"v":4.8},{"f":157.78,"v":18.2},{"f":158.23,"v":21.6},{"f":158.68,"v":17},{"f":159.29,"v":11.9},{"f":159.89,"v":7.7},{"f":160.49,"v":5.6},{"f":161.1,"v":8.5},{"f":161.7,"v":5.2},{"f":162.3,"v":3.9},{"f":162.91,"v":-1.1},{"f":163.51,"v":12.8},{"f":164.12,"v":8.5},{"f":164.72,"v":2.7},{"f":165.32,"v":5.2},{"f":165.93,"v":5.2},{"f":166.38,"v":-1.1},{"f":166.98,"v":10.2},{"f":167.59,"v":7.3},{"f":168.19,"v":3.9},{"f":168.8,"v":7.3},{"f":169.4,"v":8.5},{"f":170,"v":3.5},{"f":170.61,"v":7.7},{"f":171.21,"v":3.1},{"f":171.82,"v":7.7},{"f":172.42,"v":9.8},{"f":173.02,"v":3.5},{"f":173.63,"v":6.4},{"f":174.23,"v":-0.7},{"f":174.84,"v":6.4},{"f":175.44,"v":-3.7},{"f":176.04,"v":6},{"f":176.65,"v":7.3},{"f":177.25,"v":8.1},{"f":177.85,"v":7.7},{"f":178.46,"v":9.8},{"f":179.06,"v":5.2},{"f":179.67,"v":5.6},{"f":180.27,"v":1.4},{"f":180.87,"v":7.3},{"f":181.33,"v":-4.9},{"f":181.93,"v":-8.3},{"f":182.53,"v":7.7},{"f":183.32,"v":4.8},{"f":183.77,"v":7.7},{"f":184.22,"v":2.7},{"f":184.68,"v":7.7},{"f":185.13,"v":4.3},{"f":185.58,"v":8.1},{"f":186.03,"v":8.5},{"f":186.64,"v":6.4},{"f":187.24,"v":7.3},{"f":187.85,"v":2.7},{"f":188.45,"v":7.3},{"f":189.05,"v":3.5},{"f":189.66,"v":6.4},{"f":190.11,"v":1.4},{"f":190.56,"v":-3.7},{"f":191.02,"v":6.4},{"f":191.47,"v":6.9},{"f":191.92,"v":4.3},{"f":192.38,"v":2.2},{"f":192.83,"v":7.3},{"f":193.43,"v":5.6},{"f":194.04,"v":4.8},{"f":194.64,"v":8.5},{"f":195.24,"v":10.6},{"f":195.85,"v":3.9},{"f":196.45,"v":3.1},{"f":197.06,"v":4.8},{"f":197.66,"v":5.6},{"f":198.26,"v":5.6},{"f":198.87,"v":4.8},{"f":199.47,"v":3.1},{"f":200.08,"v":2.7},{"f":200.53,"v":-4.9},{"f":200.98,"v":-10.2},{"f":201.43,"v":-2},{"f":201.89,"v":5.2},{"f":202.34,"v":4.8},{"f":202.94,"v":6.9},{"f":203.4,"v":1.4},{"f":203.85,"v":1.4},{"f":204.3,"v":-5.5},{"f":204.76,"v":3.9},{"f":205.21,"v":5.2},{"f":205.66,"v":4.3},{"f":206.11,"v":8.1},{"f":206.57,"v":4.3},{"f":207.02,"v":8.5},{"f":207.47,"v":9.4},{"f":207.93,"v":9.8},{"f":208.38,"v":10.6},{"f":208.98,"v":14.4},{"f":209.44,"v":8.5},{"f":209.89,"v":-0.3},{"f":210.34,"v":6},{"f":210.79,"v":8.1},{"f":211.25,"v":5.2},{"f":211.7,"v":9},{"f":212.3,"v":12.8},{"f":212.76,"v":28.3},{"f":213.21,"v":20.3},{"f":213.66,"v":13.6},{"f":214.12,"v":11.5},{"f":214.57,"v":11.5},{"f":215.02,"v":9.8},{"f":215.47,"v":5.2},{"f":215.93,"v":9.4},{"f":216.38,"v":8.1},{"f":216.83,"v":9.4},{"f":217.29,"v":7.3},{"f":217.74,"v":8.1},{"f":218.19,"v":0.1},{"f":218.64,"v":4.3},{"f":219.1,"v":6},{"f":219.55,"v":7.3},{"f":220.15,"v":9.4},{"f":220.76,"v":4.3},{"f":221.21,"v":-3.7},{"f":221.66,"v":6},{"f":222.12,"v":11.9},{"f":222.57,"v":9.4},{"f":223.17,"v":6},{"f":223.63,"v":3.1},{"f":224.23,"v":-3.7},{"f":224.68,"v":5.6},{"f":225.14,"v":8.5},{"f":225.59,"v":6},{"f":226.19,"v":3.1},{"f":226.8,"v":5.2},{"f":227.4,"v":11.1},{"f":227.85,"v":8.5},{"f":228.31,"v":6.4},{"f":228.91,"v":9.4},{"f":229.36,"v":7.3},{"f":229.82,"v":6},{"f":230.27,"v":-0.3},{"f":230.72,"v":5.2},{"f":231.18,"v":3.5},{"f":231.63,"v":8.5},{"f":232.08,"v":7.7},{"f":232.53,"v":9.4},{"f":232.99,"v":6.4},{"f":233.44,"v":6.9},{"f":233.89,"v":5.6},{"f":234.35,"v":1.4},{"f":234.8,"v":-2.4},{"f":235.25,"v":6},{"f":235.7,"v":4.8},{"f":236.16,"v":3.5},{"f":236.76,"v":4.8},{"f":237.36,"v":4.3},{"f":237.97,"v":4.8},{"f":238.57,"v":4.3},{"f":239.18,"v":3.5},{"f":239.78,"v":5.2},{"f":240.23,"v":9},{"f":240.69,"v":4.8},{"f":241.14,"v":5.6},{"f":241.59,"v":3.5},{"f":242.04,"v":1.8},{"f":242.5,"v":6.9},{"f":242.95,"v":4.3},{"f":243.4,"v":5.6},{"f":243.86,"v":4.8},{"f":244.31,"v":4.3},{"f":244.76,"v":5.6},{"f":245.22,"v":4.8},{"f":245.82,"v":3.9},{"f":246.42,"v":7.3},{"f":247.03,"v":7.7},{"f":247.63,"v":8.1},{"f":248.23,"v":12.8},{"f":248.54,"v":14.9},{"f":249.02,"v":2.7},{"f":249.62,"v":6},{"f":250.23,"v":2.2},{"f":250.83,"v":4.8},{"f":251.43,"v":6.9},{"f":251.89,"v":2.2},{"f":252.34,"v":1.8},{"f":252.94,"v":0.1},{"f":253.4,"v":9.4},{"f":253.85,"v":4.3},{"f":254.3,"v":0.1},{"f":254.75,"v":3.5},{"f":255.21,"v":6.9},{"f":255.66,"v":6},{"f":256.11,"v":5.6},{"f":256.57,"v":3.1},{"f":257.02,"v":10.2},{"f":257.47,"v":8.5},{"f":257.92,"v":5.2},{"f":258.38,"v":6.9},{"f":258.83,"v":1.4},{"f":259.28,"v":1},{"f":259.74,"v":-2.4},{"f":260.04,"v":-7},{"f":260.49,"v":1.8},{"f":260.94,"v":6.4},{"f":261.4,"v":4.3},{"f":261.85,"v":4.8},{"f":262.3,"v":6},{"f":262.76,"v":7.3},{"f":263.21,"v":5.2},{"f":263.66,"v":6},{"f":264.11,"v":4.8},{"f":264.57,"v":6.9},{"f":265.02,"v":5.2},{"f":265.47,"v":6.4},{"f":265.93,"v":12.8},{"f":266.38,"v":15.7},{"f":266.83,"v":8.5},{"f":267.29,"v":10.2},{"f":267.74,"v":2.7},{"f":268.19,"v":-2.4},{"f":268.64,"v":4.3},{"f":269.1,"v":8.5},{"f":269.55,"v":3.1},{"f":270,"v":4.3},{"f":270.46,"v":0.1},{"f":270.91,"v":1.8},{"f":271.36,"v":4.3},{"f":271.81,"v":8.1},{"f":272.27,"v":0.1},{"f":272.72,"v":7.7},{"f":273.17,"v":5.2},{"f":273.63,"v":1.8},{"f":274.08,"v":7.3},{"f":274.53,"v":6},{"f":274.98,"v":15.3},{"f":275.44,"v":4.3},{"f":275.89,"v":1},{"f":276.34,"v":-0.3},{"f":276.8,"v":4.3},{"f":277.25,"v":5.2},{"f":277.7,"v":2.2},{"f":278.16,"v":4.8},{"f":278.61,"v":4.3},{"f":279.06,"v":6.4},{"f":279.51,"v":5.2},{"f":279.97,"v":3.5},{"f":280.42,"v":5.2},{"f":280.87,"v":4.3},{"f":281.33,"v":6.9},{"f":281.78,"v":6},{"f":282.23,"v":6.9},{"f":282.68,"v":6.4},{"f":283.14,"v":10.6},{"f":283.59,"v":15.7},{"f":284.04,"v":21.2},{"f":284.5,"v":17},{"f":284.95,"v":8.5},{"f":285.4,"v":6.4},{"f":285.85,"v":4.3},{"f":286.31,"v":6.9},{"f":286.76,"v":5.6},{"f":287.21,"v":4.8},{"f":287.67,"v":-6.2},{"f":288.12,"v":4.3},{"f":288.57,"v":3.5},{"f":289.02,"v":6.4},{"f":289.48,"v":8.5},{"f":289.93,"v":5.6},{"f":290.38,"v":4.3},{"f":290.84,"v":6},{"f":291.29,"v":4.8},{"f":291.74,"v":7.3},{"f":292.2,"v":5.2},{"f":292.65,"v":6.4},{"f":293.1,"v":12.3},{"f":293.55,"v":4.3},{"f":294.01,"v":-5.8},{"f":294.46,"v":0.8},{"f":294.91,"v":0.1},{"f":295.37,"v":1},{"f":295.82,"v":2.2},{"f":296.27,"v":2.2},{"f":296.72,"v":1.4},{"f":297.18,"v":0.5},{"f":297.63,"v":-0.3},{"f":298.08,"v":-0.7},{"f":298.54,"v":1.8},{"f":298.99,"v":4.3},{"f":299.44,"v":5.2},{"f":299.9,"v":3.5},{"f":300.35,"v":4.3},{"f":300.8,"v":3.9},{"f":301.25,"v":2.7},{"f":301.71,"v":1.8},{"f":302.16,"v":3.1},{"f":302.61,"v":1.4},{"f":303.07,"v":4.8},{"f":303.52,"v":4.3},{"f":303.97,"v":3.1},{"f":304.42,"v":1.8},{"f":304.88,"v":2.2},{"f":305.33,"v":3.5},{"f":305.78,"v":1},{"f":306.24,"v":3.1},{"f":306.69,"v":2.2},{"f":307.14,"v":0.1},{"f":307.59,"v":1.8},{"f":308.05,"v":-2.4},{"f":308.5,"v":5.6},{"f":308.95,"v":1.4},{"f":309.41,"v":2.7},{"f":309.86,"v":1},{"f":310.31,"v":1.4},{"f":310.76,"v":-3.2},{"f":311.22,"v":2.2},{"f":311.67,"v":1},{"f":312.12,"v":1.4},{"f":312.58,"v":0.5},{"f":313.03,"v":1.8},{"f":313.48,"v":2.2},{"f":313.93,"v":0.1},{"f":314.42,"v":2.2},{"f":315.02,"v":5.2},{"f":315.62,"v":0.1},{"f":316.23,"v":3.9},{"f":316.83,"v":1},{"f":317.43,"v":2.7},{"f":318.04,"v":4.8},{"f":318.64,"v":1.4},{"f":319.25,"v":4.8},{"f":319.85,"v":3.1},{"f":320.45,"v":0.1},{"f":321.06,"v":3.5},{"f":321.66,"v":0.1},{"f":322.27,"v":2.2},{"f":322.87,"v":0.5},{"f":323.47,"v":2.7},{"f":324.08,"v":0.1},{"f":324.68,"v":3.1},{"f":325.29,"v":2.2},{"f":325.89,"v":4.8},{"f":326.49,"v":1},{"f":327.1,"v":4.3},{"f":327.7,"v":0.1},{"f":328.3,"v":10},{"f":328.91,"v":3.9},{"f":329.51,"v":3.5},{"f":330.12,"v":3.9},{"f":330.72,"v":1.4},{"f":331.32,"v":3.5},{"f":331.93,"v":2.7},{"f":332.53,"v":3.1},{"f":333.14,"v":3.1},{"f":333.74,"v":3.5},{"f":334.34,"v":3.1},{"f":334.95,"v":3.9},{"f":335.55,"v":6},{"f":336.16,"v":0.1},{"f":336.76,"v":5.2},{"f":337.36,"v":4.3},{"f":337.97,"v":-0.3},{"f":338.57,"v":3.5},{"f":339.17,"v":2.2},{"f":339.78,"v":4.3},{"f":340.38,"v":2.2},{"f":340.99,"v":3.5},{"f":341.59,"v":1},{"f":342.19,"v":3.1},{"f":342.8,"v":1.8},{"f":343.4,"v":3.1},{"f":344.01,"v":-0.3},{"f":344.61,"v":3.9},{"f":345.21,"v":1},{"f":345.82,"v":-0.7},{"f":346.42,"v":5.2},{"f":347.03,"v":2.2},{"f":347.63,"v":5.6},{"f":348.23,"v":3.9},{"f":348.84,"v":1},{"f":349.44,"v":3.5},{"f":350.04,"v":3.1},{"f":350.65,"v":2.2},{"f":351.25,"v":3.5},{"f":351.86,"v":1},{"f":352.46,"v":4.3},{"f":353.06,"v":3.1},{"f":353.67,"v":0.5},{"f":354.27,"v":4.3},{"f":354.88,"v":8.5},{"f":355.48,"v":7.3},{"f":356.08,"v":1.4},{"f":356.69,"v":6},{"f":357.29,"v":4.8},{"f":357.89,"v":1.4},{"f":358.5,"v":6.4},{"f":359.1,"v":7.7},{"f":359.71,"v":4.3},{"f":360.31,"v":0.1},{"f":360.61,"v":10.2},{"f":361.22,"v":4.3},{"f":361.82,"v":2.2},{"f":362.42,"v":3.1},{"f":363.03,"v":1.4},{"f":363.63,"v":0.1},{"f":364.24,"v":4.3},{"f":364.84,"v":4.8},{"f":365.44,"v":3.9},{"f":366.05,"v":3.5},{"f":366.65,"v":4.8},{"f":367.26,"v":3.1},{"f":367.86,"v":5.2},{"f":368.46,"v":4.3},{"f":369.07,"v":3.5},{"f":369.67,"v":3.9},{"f":370.27,"v":3.5},{"f":370.88,"v":4.3},{"f":371.48,"v":3.1},{"f":372.09,"v":4.8},{"f":372.69,"v":6},{"f":373.29,"v":1.4},{"f":373.9,"v":4.3},{"f":374.5,"v":3.1},{"f":375.11,"v":3.9},{"f":375.71,"v":4.8},{"f":376.31,"v":3.5},{"f":376.92,"v":4.8},{"f":377.52,"v":3.5},{"f":378.12,"v":5.6},{"f":378.73,"v":3.5},{"f":379.33,"v":4.3},{"f":379.94,"v":3.1},{"f":380.72,"v":5.2},{"f":381.47,"v":3.5},{"f":382.23,"v":6},{"f":382.98,"v":3.9},{"f":383.74,"v":5.2},{"f":384.49,"v":3.1},{"f":385.25,"v":5.6},{"f":386,"v":3.5},{"f":386.76,"v":6.4},{"f":387.51,"v":3.9},{"f":388.27,"v":5.2},{"f":389.02,"v":3.5},{"f":389.78,"v":5.6},{"f":390.53,"v":4.3},{"f":391.29,"v":2.7},{"f":392.04,"v":5.2},{"f":392.8,"v":4.3},{"f":393.55,"v":5.6},{"f":394.31,"v":4.8},{"f":395.06,"v":6},{"f":395.82,"v":4.3},{"f":396.57,"v":5.2},{"f":397.33,"v":5.6},{"f":398.08,"v":4.8},{"f":398.84,"v":7.3},{"f":399.59,"v":5.2},{"f":400.35,"v":6},{"f":401.1,"v":4.3},{"f":401.86,"v":6.4},{"f":402.61,"v":4.8},{"f":403.36,"v":5.6},{"f":404.12,"v":6.4},{"f":404.87,"v":6},{"f":405.63,"v":6.9},{"f":406.38,"v":6},{"f":407.14,"v":6},{"f":407.89,"v":6},{"f":408.65,"v":6.4},{"f":409.4,"v":6.4},{"f":410.16,"v":4.3},{"f":410.91,"v":6.9},{"f":411.67,"v":5.6},{"f":412.42,"v":4.3},{"f":413.18,"v":6},{"f":413.93,"v":2.7},{"f":414.69,"v":6},{"f":415.44,"v":4.8},{"f":416.2,"v":6.4},{"f":416.95,"v":4.3},{"f":417.71,"v":6},{"f":418.46,"v":5.2},{"f":419.22,"v":5.6},{"f":419.97,"v":6.4},{"f":420.73,"v":5.2},{"f":421.48,"v":6},{"f":422.24,"v":5.2},{"f":422.99,"v":6.4},{"f":423.75,"v":6},{"f":424.5,"v":6.9},{"f":425.26,"v":6.4},{"f":426.01,"v":7.3},{"f":426.77,"v":6.9},{"f":427.52,"v":6},{"f":428.27,"v":7.3},{"f":429.03,"v":6.4},{"f":429.78,"v":6.9},{"f":430.54,"v":7.3},{"f":431.29,"v":6},{"f":432.05,"v":7.5},{"f":432.8,"v":6.4},{"f":433.56,"v":7.3},{"f":434.31,"v":6},{"f":435.07,"v":7.7},{"f":435.82,"v":6.9},{"f":436.58,"v":8.1},{"f":437.33,"v":7.3},{"f":438.09,"v":6.4},{"f":438.84,"v":8.1},{"f":439.6,"v":7.3},{"f":440.35,"v":8.5},{"f":441.11,"v":7.7},{"f":441.86,"v":4.3},{"f":442.62,"v":8.1},{"f":443.37,"v":7.3},{"f":444.13,"v":8.5},{"f":444.88,"v":7.7},{"f":445.64,"v":7.7},{"f":446.39,"v":9},{"f":447.15,"v":8.1},{"f":447.9,"v":8.5},{"f":448.36,"v":5.2},{"f":448.96,"v":9},{"f":449.56,"v":8.5},{"f":450,"v":7.3}]
},
"layer": [
 {"data": {"name": "wp"}, "mark": {"type": "line", "strokeWidth": 1.5, "clip": true},
  "encoding": {
   "x": {"field": "f", "type": "quantitative", "scale": {"domain": [50, 450], "nice": false, "zero": false},
         "axis": {"orient": "bottom", "values": [50,100,150,200,250,300,350,400,450], "labelPadding": 21, "title": "Frequency, (Hz)", "titlePadding": 16}},
   "y": {"field": "v", "type": "quantitative", "scale": {"domain": [-10, 70], "nice": false, "zero": false},
         "axis": {"orient": "left", "values": [-10,0,10,20,30,40,50,60,70], "labelExpr": "'' + datum.value", "labelPadding": 19, "title": "SPL, dB", "titlePadding": 11}},
   "color": {"datum": "With Plate", "type": "nominal",
             "scale": {"domain": ["With Plate", "Without Plate", "Background"], "range": ["#0000ff", "#00ff00", "#ff0000"]},
             "legend": {"title": null, "orient": "none", "legendX": 539, "legendY": 16, "padding": 18, "strokeColor": "black", "fillColor": "white", "labelFont": "DejaVu Sans", "labelFontSize": 25, "labelColor": "black", "labelOffset": 89, "labelLimit": 400, "symbolType": "M-1.4,0L5.6,0", "symbolSize": 400, "symbolStrokeWidth": 2, "rowPadding": 8, "cornerRadius": 0}}
  }},
 {"data": {"name": "wo"}, "mark": {"type": "line", "strokeWidth": 1.5, "clip": true},
  "encoding": {
   "x": {"field": "f", "type": "quantitative", "axis": {"orient": "top", "values": [50,100,150,200,250,300,350,400,450], "labels": false, "title": null}},
   "y": {"field": "v", "type": "quantitative", "axis": {"orient": "right", "values": [-10,0,10,20,30,40,50,60,70], "labels": false, "title": null}},
   "color": {"datum": "Without Plate", "type": "nominal"}
  }},
 {"data": {"name": "bg"}, "mark": {"type": "line", "strokeWidth": 1.5, "clip": true},
  "encoding": {
   "x": {"field": "f", "type": "quantitative", "axis": null},
   "y": {"field": "v", "type": "quantitative", "axis": null},
   "color": {"datum": "Background", "type": "nominal"}
  }}
],
"resolve": {"axis": {"x": "independent", "y": "independent"}}
}
